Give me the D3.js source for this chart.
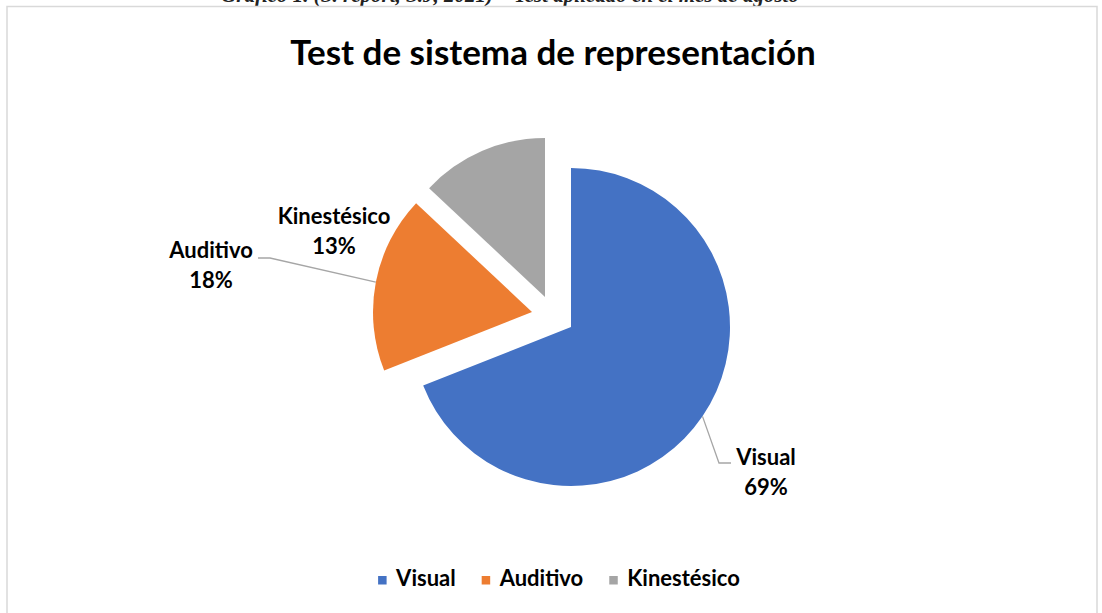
<!DOCTYPE html>
<html>
<head>
<meta charset="utf-8">
<script src="https://cdn.jsdelivr.net/npm/d3@7"></script>
<style>
  body { margin: 0; background: white; }
  svg { display: block; }
</style>
</head>
<body>
<div id="chart-container"></div>
<script>
/* DATA */
const categories = ["Visual", "Auditivo", "Kinestésico"];
const percents = [69, 18, 13];
const colors = ["#4472C4", "#ED7D31", "#A5A5A5"];
const chartTitle = "Test de sistema de representación";

function createPieChart() {
  /* CONSTANTS AND GLOBALS */
  const width = 1102,
    height = 613,
    radius = 159,
    center = { x: 571, y: 327 };

  // how far each slice is pulled out of the pie (excel "point explosion")
  const explode = { "Visual": [0, 0], "Auditivo": [-39, -15], "Kinestésico": [-26, -30] };

  // where the data labels sit, relative to the pie center
  const labelPos = { "Visual": [195, 138], "Auditivo": [-360, -69], "Kinestésico": [-237, -103] };

  const data = categories.map((c, i) => ({ name: c, value: percents[i], color: colors[i] }));

  const svg = d3.select("#chart-container")
    .append("svg")
    .attr("width", width)
    .attr("height", height);

  svg.append("rect")
    .attr("width", width)
    .attr("height", height)
    .attr("fill", "white");

  // caption of the document above the chart, cut off by the screenshot
  svg.append("text")
    .attr("x", 510)
    .attr("y", 1.5)
    .attr("text-anchor", "middle")
    .attr("font-family", "Liberation Serif")
    .attr("font-style", "italic")
    .attr("font-weight", "bold")
    .attr("font-size", "21px")
    .attr("fill", "#222")
    .text("Gráfico 1. (S. report, S.J, 2021) – Test aplicado en el mes de agosto");

  // chart area border
  svg.append("rect")
    .attr("x", 7)
    .attr("y", 6.5)
    .attr("width", 1090)
    .attr("height", 640)
    .attr("fill", "white")
    .attr("stroke", "#d9d9d9")
    .attr("stroke-width", 1.5);

  svg.append("text")
    .attr("x", 553)
    .attr("y", 65)
    .attr("text-anchor", "middle")
    .attr("font-family", "Lato")
    .attr("font-weight", "bold")
    .attr("font-size", "35px")
    .attr("fill", "#000")
    .text(chartTitle);

  /* PIE */
  const pie = d3.pie()
    .value(d => d.value)
    .sort(null);

  const arc = d3.arc()
    .innerRadius(0)
    .outerRadius(radius);

  const arcs = pie(data);

  const g = svg.append("g")
    .attr("transform", `translate(${center.x}, ${center.y})`);

  g.selectAll(".slice")
    .data(arcs)
    .join("path")
    .attr("class", "slice")
    .attr("d", arc)
    .attr("fill", d => d.data.color)
    .attr("transform", d => `translate(${explode[d.data.name][0]}, ${explode[d.data.name][1]})`);

  // leader lines (only for Visual and Auditivo, like in the original)
  const leaders = {
    "Visual": { bend: [148, 136], end: [160, 136] },
    "Auditivo": { bend: [-301, -69], end: [-313, -69] }
  };

  arcs.forEach(d => {
    const L = leaders[d.data.name];
    if (!L) return;
    const mid = (d.startAngle + d.endAngle) / 2;
    const off = explode[d.data.name];
    const sx = Math.sin(mid) * radius + off[0],
      sy = -Math.cos(mid) * radius + off[1];
    g.append("polyline")
      .attr("points", [[sx, sy], L.bend, L.end].map(p => p.join(",")).join(" "))
      .attr("fill", "none")
      .attr("stroke", "#a6a6a6")
      .attr("stroke-width", 1.3);
  });

  // data labels
  const labels = g.selectAll(".data-label")
    .data(arcs)
    .join("text")
    .attr("class", "data-label")
    .attr("text-anchor", "middle")
    .attr("font-family", "Lato")
    .attr("font-weight", "bold")
    .attr("font-size", "22px")
    .attr("fill", "#000");

  labels.append("tspan")
    .attr("x", d => labelPos[d.data.name][0])
    .attr("y", d => labelPos[d.data.name][1])
    .text(d => d.data.name);

  labels.append("tspan")
    .attr("x", d => labelPos[d.data.name][0])
    .attr("dy", 29.5)
    .text(d => d.data.value + "%");

  /* LEGEND */
  const legend = svg.append("g");
  let cursor = 0;
  data.forEach(d => {
    const item = legend.append("g").attr("transform", `translate(${cursor}, 0)`);
    item.append("rect")
      .attr("x", 0)
      .attr("y", -10)
      .attr("width", 8.5)
      .attr("height", 8.5)
      .attr("fill", d.color);
    const t = item.append("text")
      .attr("x", 18)
      .attr("y", 0)
      .attr("font-family", "Lato")
      .attr("font-weight", "bold")
      .attr("font-size", "22px")
      .attr("fill", "#000")
      .text(d.name);
    cursor += 18 + t.node().getComputedTextLength() + 26;
  });
  cursor -= 26;
  legend.attr("transform", `translate(${559 - cursor / 2}, 586)`);
}

createPieChart();
</script>
</body>
</html>
